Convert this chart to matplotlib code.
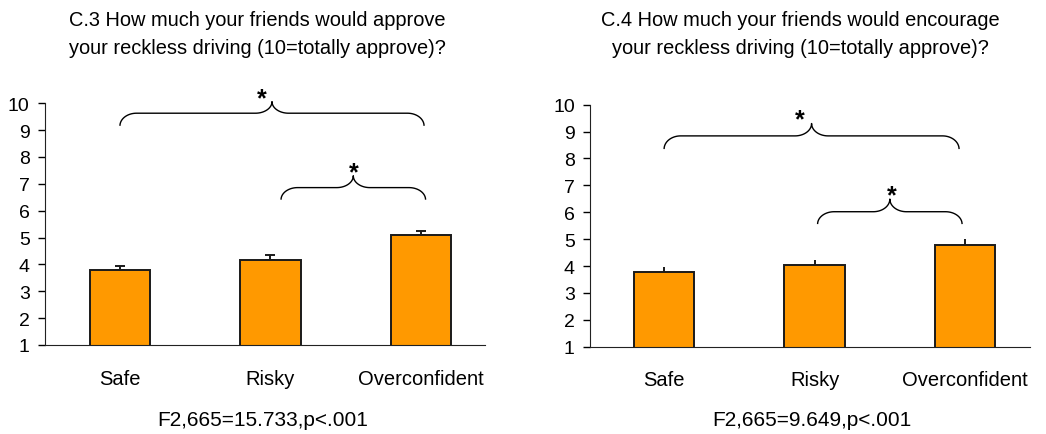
import numpy as np
from matplotlib import pyplot as plt

plt.rcParams['font.family'] = ['Liberation Sans', 'DejaVu Sans']

categories = ['Safe', 'Risky', 'Overconfident']

# C.3 approve
approve_mean = [3.78, 4.15, 5.08]
approve_err = [0.15, 0.21, 0.15]
# C.4 encourage
encourage_mean = [3.79, 4.05, 4.79]
encourage_err = [0.16, 0.16, 0.20]

titles = ['C.3 How much your friends would approve\nyour reckless driving (10=totally approve)?',
          'C.4 How much your friends would encourage\nyour reckless driving (10=totally approve)?']
notes = ['F2,665=15.733,p<.001', 'F2,665=9.649,p<.001']

# braces: (x start, x end, end level, flat level, tip level, star x)
approve_braces = [(0.0, 2.02, 9.16, 9.63, 10.06, 0.94),
                  (1.07, 2.03, 6.41, 6.86, 7.30, 1.555)]
encourage_braces = [(0.0, 1.96, 8.35, 8.84, 9.30, 0.90),
                    (1.02, 1.98, 5.56, 6.02, 6.49, 1.51)]

bar_color = '#FF9900'


def brace(ax, x0, x1, yend, yflat, ytip, rx=0.11):
    xm = (x0 + x1) / 2.0
    t = np.linspace(0, np.pi / 2, 20)
    # left corner
    xs = list(x0 + rx - rx * np.cos(t))
    ys = list(yend + (yflat - yend) * np.sin(t))
    # left half towards tip
    xs += list(xm - rx + rx * np.sin(t))
    ys += list(ytip - (ytip - yflat) * np.cos(t))
    # right half from tip
    xs += list(xm + rx - rx * np.cos(t))
    ys += list(ytip - (ytip - yflat) * np.sin(t))
    # right corner
    xs += list(x1 - rx + rx * np.sin(t))
    ys += list(yflat - (yflat - yend) * (1 - np.cos(t)))
    ax.plot(xs, ys, color='black', lw=1.0, clip_on=False, solid_capstyle='butt')


def do_panel(ax, means, errs, braces, capsize, xlim):
    x = np.arange(len(categories))
    ax.bar(x, means, width=0.4, bottom=0, color=bar_color, edgecolor='#1a1a1a',
           linewidth=1.4, zorder=2)
    ax.errorbar(x, means, yerr=[np.zeros(len(errs)), errs], fmt='none',
                ecolor='#1a1a1a', elinewidth=1.4, capsize=capsize, capthick=1.4, zorder=1)
    ax.set_ylim(1, 10)
    ax.set_xlim(*xlim)
    ax.set_yticks(range(1, 11))
    ax.set_xticks(x)
    ax.set_xticklabels(categories, fontsize=14.5)
    ax.tick_params(axis='x', length=0, pad=17)
    ax.tick_params(axis='y', length=5, width=1, pad=6, labelsize=14)
    ax.spines['top'].set_visible(False)
    ax.spines['right'].set_visible(False)
    ax.spines['left'].set_color('#222222')
    ax.spines['bottom'].set_color('#222222')
    for (x0, x1, ye, yf, yt, sx) in braces:
        brace(ax, x0, x1, ye, yf, yt)
        ax.text(sx, yt - 0.12, '*', ha='center', va='baseline', fontsize=18,
                fontweight='bold', clip_on=False)


fig = plt.figure(figsize=(10.46, 4.35), dpi=100)
ax1 = fig.add_axes([0.0430, 0.2046, 0.4207, 0.5557])
ax2 = fig.add_axes([0.5641, 0.2007, 0.4207, 0.5563])

do_panel(ax1, approve_mean, approve_err, approve_braces, 3.6, (-0.498, 2.425))
do_panel(ax2, encourage_mean, encourage_err, encourage_braces, 0, (-0.492, 2.432))

fig.text(257 / 1046, 1 - 34 / 435, titles[0], ha='center', va='center', fontsize=14.4, linespacing=1.6)
fig.text(800 / 1046, 1 - 35 / 435, titles[1], ha='center', va='center', fontsize=14.4, linespacing=1.6)
fig.text(263 / 1046, 1 - 421 / 435, notes[0], ha='center', va='center', fontsize=15)
fig.text(812 / 1046, 1 - 421 / 435, notes[1], ha='center', va='center', fontsize=15)

plt.savefig('out.png', dpi=100)
